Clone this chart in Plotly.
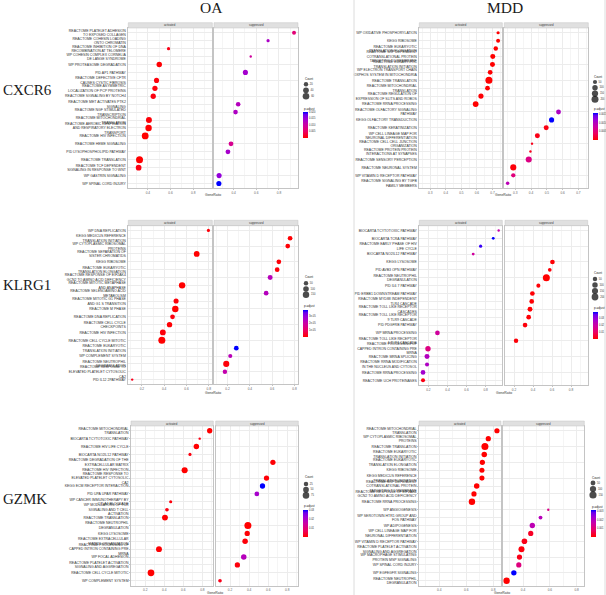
import math
import plotly.graph_objects as go

W, H = 606, 595

# ------------------------------------------------------------------ data
# OA / CXCR6
oa_cxcr6_terms = [
    "REACTOME PLATELET ADHESION TO EXPOSED COLLAGEN",
    "REACTOME COHESIN LOADING ONTO CHROMATIN",
    "REACTOME INHIBITION OF DNA RECOMBINATION AT TELOMERE",
    "WP COHESIN COMPLEX CORNELIA DE LANGE SYNDROME",
    "WP PROTEASOME DEGRADATION",
    "PID AP1 PATHWAY",
    "REACTOME DEFECTIVE CFTR CAUSES CYSTIC FIBROSIS",
    "REACTOME ASYMMETRIC LOCALIZATION OF PCP PROTEINS",
    "REACTOME SIGNALING BY NOTCH4",
    "REACTOME MET ACTIVATES PTK2 SIGNALING",
    "REACTOME NGF STIMULATED TRANSCRIPTION",
    "REACTOME MITOCHONDRIAL TRANSLATION",
    "REACTOME AEROBIC RESPIRATION AND RESPIRATORY ELECTRON TRANSPORT",
    "REACTOME HIV INFECTION",
    "REACTOME HEME SIGNALING",
    "PID LYSOPHOSPHOLIPID PATHWAY",
    "REACTOME TRANSLATION",
    "REACTOME TCF DEPENDENT SIGNALING IN RESPONSE TO WNT",
    "WP GASTRIN SIGNALING",
    "WP SPINAL CORD INJURY",
]
oa_cxcr6_ratio = [0.933, 0.704, 0.582, 0.551, 0.500, 0.504, 0.476, 0.462, 0.447, 0.440,
                  0.417, 0.409, 0.406, 0.376, 0.377, 0.350, 0.326, 0.318, 0.272, 0.270]
oa_cxcr6_count = [15, 10, 10, 8, 35, 30, 30, 32, 32, 22, 22, 45, 55, 65, 25, 25, 70, 40, 30, 30]
oa_cxcr6_padj = [0.0065, 0.0135, 0.0012, 0.0095, 0.0003, 0.0142, 0.0006, 0.0007, 0.0009, 0.0125,
                 0.0132, 0.0005, 0.0002, 0.0001, 0.0085, 0.0140, 0.0001, 0.0010, 0.0155, 0.0200]
oa_cxcr6_group = ["S", "S", "A", "S", "A", "S", "A", "A", "A", "S",
                  "S", "A", "A", "A", "S", "S", "A", "A", "S", "S"]
oa_cxcr6_size_keys = [20, 40, 60]
oa_cxcr6_color_ticks = [0.005, 0.010, 0.015, 0.020]
oa_cxcr6_color_labels = ["0.005", "0.010", "0.015", "0.020"]

# MDD / CXCR6
mdd_cxcr6_terms = [
    "WP OXIDATIVE PHOSPHORYLATION",
    "KEGG RIBOSOME",
    "REACTOME EUKARYOTIC TRANSLATION ELONGATION",
    "REACTOME SRP DEPENDENT COTRANSLATIONAL PROTEIN TARGETING TO MEMBRANE",
    "REACTOME EUKARYOTIC TRANSLATION INITIATION",
    "WP ELECTRON TRANSPORT CHAIN OXPHOS SYSTEM IN MITOCHONDRIA",
    "REACTOME TRANSLATION",
    "REACTOME MITOCHONDRIAL TRANSLATION",
    "REACTOME REGULATION OF EXPRESSION OF SLITS AND ROBOS",
    "REACTOME RRNA PROCESSING",
    "REACTOME OLFACTORY SIGNALING PATHWAY",
    "KEGG OLFACTORY TRANSDUCTION",
    "REACTOME KERATINIZATION",
    "WP CELL LINEAGE MAP FOR NEURONAL DIFFERENTIATION",
    "REACTOME CELL CELL JUNCTION ORGANIZATION",
    "REACTOME PROTEIN PROTEIN INTERACTIONS AT SYNAPSES",
    "REACTOME SENSORY PERCEPTION",
    "REACTOME NEURONAL SYSTEM",
    "WP VITAMIN D RECEPTOR PATHWAY",
    "REACTOME SIGNALING BY TGFB FAMILY MEMBERS",
]
mdd_cxcr6_ratio = [0.736, 0.736, 0.721, 0.702, 0.700, 0.685, 0.677, 0.668, 0.626, 0.592,
                   0.574, 0.530, 0.496, 0.440, 0.406, 0.396, 0.385, 0.287, 0.287, 0.251]
mdd_cxcr6_count = [30, 45, 60, 80, 80, 70, 200, 70, 90, 120, 75, 85, 80, 80, 25, 25, 140, 140, 55, 35]
mdd_cxcr6_padj = [0.00002, 0.00001, 0.00001, 0.00001, 0.00001, 0.00002, 0.00001, 0.00002, 0.00003, 0.00001,
                  0.00105, 0.00160, 0.00008, 0.00010, 0.00012, 0.00012, 0.00060, 0.00005, 0.00055, 0.00095]
mdd_cxcr6_group = ["A"] * 10 + ["S"] * 10
mdd_cxcr6_size_keys = [50, 100, 150, 200]
mdd_cxcr6_color_ticks = [0.0005, 0.0010, 0.0015]
mdd_cxcr6_color_labels = ["0.0005", "0.0010", "0.0015"]

# OA / KLRG1
oa_klrg1_terms = [
    "WP DNA REPLICATION",
    "KEGG MEDICUS REFERENCE TRANSLATION INITIATION",
    "WP CYTOPLASMIC RIBOSOMAL PROTEINS",
    "REACTOME SEPARATION OF SISTER CHROMATIDS",
    "KEGG RIBOSOME",
    "REACTOME EUKARYOTIC TRANSLATION ELONGATION",
    "REACTOME RESPONSE OF EIF2AK4 GCN2 TO AMINO ACID DEFICIENCY",
    "REACTOME MITOTIC METAPHASE AND ANAPHASE",
    "REACTOME SELENOAMINO ACID METABOLISM",
    "REACTOME MITOTIC G1 PHASE AND G1 S TRANSITION",
    "REACTOME M PHASE",
    "REACTOME DNA REPLICATION",
    "REACTOME CELL CYCLE CHECKPOINTS",
    "REACTOME HIV INFECTION",
    "REACTOME CELL CYCLE MITOTIC",
    "REACTOME EUKARYOTIC TRANSLATION INITIATION",
    "WP COMPLEMENT SYSTEM",
    "REACTOME NEUTROPHIL DEGRANULATION",
    "REACTOME RESPONSE TO ELEVATED PLATELET CYTOSOLIC CA2",
    "PID IL12 2PATHWAY",
]
oa_klrg1_ratio = [0.797, 0.761, 0.740, 0.692, 0.660, 0.645, 0.582, 0.561, 0.546, 0.507,
                  0.500, 0.475, 0.448, 0.388, 0.379, 0.278, 0.224, 0.188, 0.176, 0.113]
oa_klrg1_count = [20, 60, 60, 110, 60, 60, 70, 150, 60, 76, 150, 60, 90, 110, 190, 60, 40, 130, 50, 16]
oa_klrg1_padj = [1.0e-6, 4e-7, 6e-7, 2e-7, 8e-7, 1.2e-6, 2.45e-5, 1e-7, 2.5e-5, 9e-7,
                 1e-7, 1.5e-6, 5e-7, 1.1e-6, 1e-7, 4.0e-5, 2.4e-5, 1.0e-6, 2.2e-5, 3.0e-6]
oa_klrg1_group = ["A", "S", "S", "A", "S", "S", "S", "A", "S", "A",
                  "A", "A", "A", "A", "A", "S", "S", "S", "S", "A"]
oa_klrg1_size_keys = [50, 100, 150]
oa_klrg1_color_ticks = [1e-5, 2e-5, 3e-5]
oa_klrg1_color_labels = ["1e-05", "2e-05", "3e-05"]

# MDD / KLRG1
mdd_klrg1_terms = [
    "BIOCARTA TCYTOTOXIC PATHWAY",
    "BIOCARTA TCRA PATHWAY",
    "REACTOME EARLY PHASE OF HIV LIFE CYCLE",
    "BIOCARTA NO2IL12 PATHWAY",
    "KEGG LYSOSOME",
    "PID AVB3 OPN PATHWAY",
    "REACTOME NEUTROPHIL DEGRANULATION",
    "PID IL6 7 PATHWAY",
    "PID ERBB1 DOWNSTREAM PATHWAY",
    "REACTOME MYD88 INDEPENDENT TLR4 CASCADE",
    "REACTOME TOLL LIKE RECEPTOR CASCADES",
    "REACTOME TOLL LIKE RECEPTOR 9 TLR9 CASCADE",
    "PID PDGFRB PATHWAY",
    "WP MRNA PROCESSING",
    "REACTOME TOLL LIKE RECEPTOR 4 TLR4 CASCADE",
    "REACTOME PROCESSING OF CAPPED INTRON CONTAINING PRE MRNA",
    "REACTOME MRNA SPLICING",
    "REACTOME RRNA MODIFICATION IN THE NUCLEUS AND CYTOSOL",
    "REACTOME RRNA PROCESSING",
    "REACTOME UCH PROTEINASES",
]
mdd_klrg1_ratio = [0.937, 0.880, 0.748, 0.670, 0.604, 0.576, 0.540, 0.456, 0.393, 0.386,
                   0.368, 0.354, 0.316, 0.295, 0.221, 0.196, 0.186, 0.186, 0.144, 0.144]
mdd_klrg1_count = [8, 10, 14, 10, 60, 25, 220, 35, 60, 60, 70, 60, 60, 60, 50, 100, 75, 35, 60, 35]
mdd_klrg1_padj = [0.020, 0.038, 0.036, 0.018, 0.0005, 0.0010, 0.0001, 0.0008, 0.0006, 0.0005,
                  0.0004, 0.0007, 0.0012, 0.018, 0.0009, 0.014, 0.024, 0.025, 0.027, 0.0020]
mdd_klrg1_group = ["A", "A", "A", "A", "S", "S", "S", "S", "S", "S",
                   "S", "S", "S", "A", "S", "A", "A", "A", "A", "A"]
mdd_klrg1_size_keys = [50, 100, 150, 200]
mdd_klrg1_color_ticks = [0.01, 0.02, 0.03]
mdd_klrg1_color_labels = ["0.01", "0.02", "0.03"]

# OA / GZMK
oa_gzmk_terms = [
    "REACTOME MITOCHONDRIAL TRANSLATION",
    "BIOCARTA TCYTOTOXIC PATHWAY",
    "REACTOME HIV LIFE CYCLE",
    "BIOCARTA NO2IL12 PATHWAY",
    "REACTOME DEGRADATION OF THE EXTRACELLULAR MATRIX",
    "REACTOME HIV INFECTION",
    "REACTOME RESPONSE TO ELEVATED PLATELET CYTOSOLIC CA2",
    "KEGG ECM RECEPTOR INTERACTION",
    "PID UPA UPAR PATHWAY",
    "WP CANCER IMMUNOTHERAPY BY CTLA4 BLOCKADE",
    "WP MODULATORS OF TCR SIGNALING AND T CELL ACTIVATION",
    "REACTOME TRANSLATION",
    "REACTOME NEUTROPHIL DEGRANULATION",
    "KEGG LYSOSOME",
    "REACTOME EXTRACELLULAR MATRIX ORGANIZATION",
    "REACTOME PROCESSING OF CAPPED INTRON CONTAINING PRE MRNA",
    "WP FOCAL ADHESION",
    "REACTOME PLATELET ACTIVATION SIGNALING AND AGGREGATION",
    "REACTOME CELL CYCLE MITOTIC",
    "WP COMPLEMENT SYSTEM",
]
oa_gzmk_ratio = [0.877, 0.772, 0.737, 0.670, 0.649, 0.614, 0.582, 0.540, 0.481, 0.467,
                 0.428, 0.407, 0.387, 0.380, 0.358, 0.344, 0.344, 0.277, 0.260, 0.095]
oa_gzmk_count = [40, 8, 45, 10, 40, 60, 40, 40, 28, 10, 14, 55, 90, 40, 45, 55, 45, 40, 80, 14]
oa_gzmk_padj = [0.0001, 0.0015, 0.0002, 0.0012, 0.0004, 0.0001, 0.0006, 0.0300, 0.0210, 0.0010,
                0.0014, 0.0002, 0.0001, 0.0005, 0.0008, 0.0003, 0.0185, 0.0009, 0.0001, 0.0020]
oa_gzmk_group = ["A", "A", "A", "A", "S", "A", "S", "S", "S", "A",
                 "A", "A", "S", "S", "S", "A", "S", "S", "A", "S"]
oa_gzmk_size_keys = [25, 50, 75]
oa_gzmk_color_ticks = [0.01, 0.02, 0.03]
oa_gzmk_color_labels = ["0.01", "0.02", "0.03"]

# MDD / GZMK
mdd_gzmk_terms = [
    "REACTOME MITOCHONDRIAL TRANSLATION",
    "WP CYTOPLASMIC RIBOSOMAL PROTEINS",
    "REACTOME TRANSLATION",
    "REACTOME EUKARYOTIC TRANSLATION INITIATION",
    "REACTOME EUKARYOTIC TRANSLATION ELONGATION",
    "KEGG RIBOSOME",
    "KEGG MEDICUS REFERENCE TRANSLATION INITIATION",
    "REACTOME SRP DEPENDENT COTRANSLATIONAL PROTEIN TARGETING TO MEMBRANE",
    "REACTOME RESPONSE OF EIF2AK4 GCN2 TO AMINO ACID DEFICIENCY",
    "REACTOME RRNA PROCESSING",
    "WP ANGIOGENESIS",
    "WP SEROTONIN HTR1 GROUP AND FOS PATHWAY",
    "WP ADIPOGENESIS",
    "WP CELL LINEAGE MAP FOR NEURONAL DIFFERENTIATION",
    "WP VITAMIN D RECEPTOR PATHWAY",
    "REACTOME PLATELET ACTIVATION SIGNALING AND AGGREGATION",
    "WP MACROPHAGE STIMULATING PROTEIN MSP SIGNALING",
    "WP SPINAL CORD INJURY",
    "WP EGFEGFR SIGNALING",
    "REACTOME NEUTROPHIL DEGRANULATION",
]
mdd_gzmk_ratio = [0.827, 0.763, 0.738, 0.733, 0.719, 0.716, 0.716, 0.677, 0.657, 0.642,
                  0.588, 0.530, 0.469, 0.457, 0.410, 0.388, 0.373, 0.368, 0.331, 0.277]
mdd_gzmk_count = [60, 60, 140, 70, 60, 55, 55, 70, 60, 110, 12, 25, 65, 60, 75, 90, 60, 60, 65, 110]
mdd_gzmk_padj = [0.00001, 0.00001, 0.00001, 0.00001, 0.00001, 0.00002, 0.00002, 0.00001, 0.00002, 0.00001,
                 0.0012, 0.0019, 0.0018, 0.0003, 0.0002, 0.0001, 0.0002, 0.0011, 0.0031, 0.00001]
mdd_gzmk_group = ["A"] * 10 + ["S"] * 10
mdd_gzmk_size_keys = [50, 100, 150]
mdd_gzmk_color_ticks = [0.001, 0.002, 0.003]
mdd_gzmk_color_labels = ["0.001", "0.002", "0.003"]

column_titles = ["OA", "MDD"]
row_titles = ["CXCR6", "KLRG1", "GZMK"]
facet_labels = {"A": "activated", "S": "suppressed"}

DATA = {
    "oa_cxcr6": (oa_cxcr6_terms, oa_cxcr6_ratio, oa_cxcr6_count, oa_cxcr6_padj, oa_cxcr6_group,
                 oa_cxcr6_size_keys, oa_cxcr6_color_ticks, oa_cxcr6_color_labels),
    "mdd_cxcr6": (mdd_cxcr6_terms, mdd_cxcr6_ratio, mdd_cxcr6_count, mdd_cxcr6_padj, mdd_cxcr6_group,
                  mdd_cxcr6_size_keys, mdd_cxcr6_color_ticks, mdd_cxcr6_color_labels),
    "oa_klrg1": (oa_klrg1_terms, oa_klrg1_ratio, oa_klrg1_count, oa_klrg1_padj, oa_klrg1_group,
                 oa_klrg1_size_keys, oa_klrg1_color_ticks, oa_klrg1_color_labels),
    "mdd_klrg1": (mdd_klrg1_terms, mdd_klrg1_ratio, mdd_klrg1_count, mdd_klrg1_padj, mdd_klrg1_group,
                  mdd_klrg1_size_keys, mdd_klrg1_color_ticks, mdd_klrg1_color_labels),
    "oa_gzmk": (oa_gzmk_terms, oa_gzmk_ratio, oa_gzmk_count, oa_gzmk_padj, oa_gzmk_group,
                oa_gzmk_size_keys, oa_gzmk_color_ticks, oa_gzmk_color_labels),
    "mdd_gzmk": (mdd_gzmk_terms, mdd_gzmk_ratio, mdd_gzmk_count, mdd_gzmk_padj, mdd_gzmk_group,
                 mdd_gzmk_size_keys, mdd_gzmk_color_ticks, mdd_gzmk_color_labels),
}

# ------------------------------------------------------------------ layout geometry (pixels)
PANELS = [
    dict(key="oa_cxcr6", xa=(128.3, 212.3), xs=(214.0, 298.0), yt=28.0, yb=188.3, st=22.7,
         xr=(0.227, 0.968), dt=0.2, lx=306, ldots=(84.3, 96.3), lct=79, lpt=108.5,
         cb=(302.7, 111.7, 137.7), gr=195.0),
    dict(key="mdd_cxcr6", xa=(419.3, 502.3), xs=(504.3, 588.3), yt=28.0, yb=188.0, st=22.7,
         xr=(0.23, 0.763), dt=0.1, lx=595, ldots=(82.0, 99.3), lct=77, lpt=108.5,
         cb=(592.5, 112.5, 139.0), gr=195.0),
    dict(key="oa_klrg1", xa=(128.3, 212.3), xs=(214.0, 298.0), yt=225.7, yb=384.3, st=220.3,
         xr=(0.078, 0.832), dt=0.2, lx=306, ldots=(283.3, 294.7), lct=276.7, lpt=305.5,
         cb=(302.7, 309.7, 336.3), gr=392.7),
    dict(key="mdd_klrg1", xa=(419.3, 502.3), xs=(505.0, 587.7), yt=225.7, yb=385.0, st=220.3,
         xr=(0.105, 0.975), dt=0.2, lx=595, ldots=(279.0, 297.0), lct=273, lpt=308,
         cb=(592.5, 312.0, 338.5), gr=393.0),
    dict(key="oa_gzmk", xa=(131.0, 213.3), xs=(215.7, 298.3), yt=426.0, yb=585.5, st=421.0,
         xr=(0.05, 0.915), dt=0.2, lx=306, ldots=(484.0, 495.4), lct=477.4, lpt=506.2,
         cb=(302.7, 510.4, 537.0), gr=592.5),
    dict(key="mdd_gzmk", xa=(419.0, 501.0), xs=(503.0, 584.3), yt=426.0, yb=585.5, st=421.0,
         xr=(0.25, 0.857), dt=0.2, lx=593, ldots=(483.0, 495.0), lct=478, lpt=507,
         cb=(590.5, 510.0, 537.0), gr=592.5),
]

COLORSCALE = [[0.0, "#FF0000"], [0.25, "#EB0063"], [0.5, "#CC00A3"],
              [0.75, "#9C00D6"], [0.9, "#6A00EE"], [1.0, "#0000FF"]]
TEXT_FONT = "Liberation Sans, Arial, sans-serif"
SERIF = "Liberation Serif, Times New Roman, serif"
BORDER = "#c4c4c4"


def px_x(v):
    return min(1.0, max(0.0, v / W))


def px_y(v):
    return min(1.0, max(0.0, 1 - v / H))


def sfx(i):
    return "" if i == 1 else str(i)


def wrap_label(s, width=30):
    # same splitting rule as clusterProfiler's default labeller
    parts = []
    while len(s) > width:
        if " " not in s:
            break
        pos = [i + 1 for i, ch in enumerate(s) if ch == " "] + [len(s)]
        idx = [p for p in pos if p < width]
        cut = idx[-1] if idx else pos[0]
        parts.append(s[:cut - 1])
        s = s[cut:]
    parts.append(s)
    return "<br>".join(parts)


def size_scale(c, lo, hi, smin=2.4, smax=7.0):
    # ggplot2 area palette: diameter ~ sqrt of rescaled value
    return smin + (smax - smin) * math.sqrt(max(0.0, (c - lo) / (hi - lo)))


fig = go.Figure()
layout = dict(
    width=W, height=H, margin=dict(l=0, r=0, t=0, b=0),
    paper_bgcolor="white", plot_bgcolor="white", showlegend=False,
    font=dict(family=TEXT_FONT, size=4, color="#333333"),
)
shapes, annotations = [], []

for k, p in enumerate(PANELS):
    terms, ratio, count, padj, group, size_keys, cticks, clabels = DATA[p["key"]]
    labels = [wrap_label(t) for t in terms]
    n = len(labels)
    lo, hi = min(count), max(count)
    cax = "coloraxis" if k == 0 else f"coloraxis{k + 1}"
    cb_x, cb_top, cb_bot = p["cb"]
    layout[cax] = dict(
        colorscale=COLORSCALE, cmin=min(padj), cmax=max(padj),
        colorbar=dict(
            x=px_x(cb_x), xanchor="left", y=px_y(cb_top), yanchor="top",
            len=cb_bot - cb_top, lenmode="pixels", thickness=4.6, thicknessmode="pixels",
            outlinewidth=0, xpad=0, ypad=0, ticks="", tickvals=cticks, ticktext=clabels,
            tickfont=dict(size=2.6, color="#333333", family=TEXT_FONT),
        ),
    )
    for f, (g, (x0, x1)) in enumerate([("A", p["xa"]), ("S", p["xs"])]):
        ai = 2 * k + f + 1
        s = sfx(ai)
        xs = [r for r, gg in zip(ratio, group) if gg == g]
        ys = [lab for lab, gg in zip(labels, group) if gg == g]
        ss = [size_scale(c, lo, hi) for c, gg in zip(count, group) if gg == g]
        cs = [v for v, gg in zip(padj, group) if gg == g]
        fig.add_trace(go.Scatter(
            x=xs, y=ys, mode="markers", xaxis=f"x{s}", yaxis=f"y{s}",
            marker=dict(size=ss, color=cs, coloraxis=cax, line=dict(width=0), opacity=1),
            hoverinfo="x+y",
        ))
        layout[f"xaxis{s}"] = dict(
            domain=[px_x(x0), px_x(x1)], anchor=f"y{s}", range=list(p["xr"]),
            dtick=p["dt"], tick0=0, tickformat=".1f", showgrid=True, gridcolor="#ececec", gridwidth=0.5,
            minor=dict(dtick=p["dt"] / 2, showgrid=True, gridcolor="#f5f5f5", gridwidth=0.4),
            showline=True, mirror=True, linecolor=BORDER, linewidth=0.5,
            ticks="outside", ticklen=1, tickwidth=0.4, tickcolor=BORDER,
            tickfont=dict(size=3.2, color="#666666", family=TEXT_FONT),
            zeroline=False, automargin=False, fixedrange=True,
        )
        layout[f"yaxis{s}"] = dict(
            domain=[px_y(p["yb"]), px_y(p["yt"])], anchor=f"x{s}",
            type="category", categoryorder="array", categoryarray=labels,
            range=[n - 0.4, -0.6], showgrid=True, gridcolor="#ececec", gridwidth=0.5,
            showline=True, mirror=True, linecolor=BORDER, linewidth=0.5,
            ticks="outside" if f == 0 else "", ticklen=1, tickwidth=0.4, tickcolor=BORDER,
            showticklabels=(f == 0),
            tickfont=dict(size=3.5, color="#333333", family=TEXT_FONT),
            zeroline=False, automargin=False, fixedrange=True,
        )
        # facet strip
        shapes.append(dict(type="rect", xref=f"x{s} domain", yref="paper", x0=0, x1=1,
                           y0=px_y(p["yt"]), y1=px_y(p["st"]),
                           fillcolor="#e0e0e0", line=dict(color=BORDER, width=0.5), layer="above"))
        annotations.append(dict(text=facet_labels[g], xref=f"x{s} domain", yref="paper",
                                x=0.5, y=px_y((p["yt"] + p["st"]) / 2), showarrow=False,
                                font=dict(size=2.8, color="#333333", family=TEXT_FONT),
                                xanchor="center", yanchor="middle"))
    # x title
    annotations.append(dict(text="GeneRatio", xref="paper", yref="paper",
                            x=px_x((p["xa"][1] + p["xs"][0]) / 2), y=px_y(p["gr"]), showarrow=False,
                            font=dict(size=3.4, color="#333333", family=TEXT_FONT),
                            xanchor="center", yanchor="middle"))
    # size legend (Count)
    li = 13 + k
    nk = len(size_keys)
    d0, d1 = p["ldots"]
    step = (d1 - d0) / (nk - 1)
    fig.add_trace(go.Scatter(
        x=[0] * nk, y=list(range(nk)), mode="markers+text", xaxis=f"x{li}", yaxis=f"y{li}",
        text=[str(v) for v in size_keys], textposition="middle right",
        textfont=dict(size=2.6, color="#333333", family=TEXT_FONT),
        marker=dict(size=[size_scale(v, lo, hi) for v in size_keys], color="black", line=dict(width=0)),
        hoverinfo="skip", cliponaxis=False,
    ))
    layout[f"xaxis{li}"] = dict(domain=[px_x(p["lx"] - 4), px_x(p["lx"] + 10)], range=[-1, 2.5],
                                visible=False, anchor=f"y{li}", fixedrange=True)
    layout[f"yaxis{li}"] = dict(domain=[px_y(d1 + step / 2), px_y(d0 - step / 2)],
                                range=[nk - 0.5, -0.5], visible=False, anchor=f"x{li}", fixedrange=True)
    annotations.append(dict(text="Count", xref="paper", yref="paper", x=px_x(p["lx"] - 3.5),
                            y=px_y(p["lct"]), showarrow=False, xanchor="left", yanchor="middle",
                            font=dict(size=3.0, color="#1a1a1a", family=TEXT_FONT)))
    annotations.append(dict(text="p.adjust", xref="paper", yref="paper", x=px_x(cb_x - 0.5),
                            y=px_y(p["lpt"]), showarrow=False, xanchor="left", yanchor="middle",
                            font=dict(size=3.0, color="#1a1a1a", family=TEXT_FONT)))

# column and row titles
for t, cx in zip(column_titles, [211.5, 504.5]):
    annotations.append(dict(text=t, xref="paper", yref="paper", x=px_x(cx), y=px_y(7.5),
                            showarrow=False, xanchor="center", yanchor="middle",
                            font=dict(size=15.5, color="#1a1a1a", family=SERIF)))
for t, cy in zip(row_titles, [90, 285, 498.5]):
    annotations.append(dict(text=t, xref="paper", yref="paper", x=px_x(1), y=px_y(cy),
                            showarrow=False, xanchor="left", yanchor="middle",
                            font=dict(size=15, color="#1a1a1a", family=SERIF)))

# thin frame lines of the composed panels
for xv in [354, 605]:
    shapes.append(dict(type="line", xref="paper", yref="paper", x0=px_x(xv), x1=px_x(xv),
                       y0=0, y1=1, line=dict(color="#dcdcdc", width=1)))

layout["shapes"] = shapes
layout["annotations"] = annotations
fig.update_layout(**layout)
fig.write_html("out.html")
